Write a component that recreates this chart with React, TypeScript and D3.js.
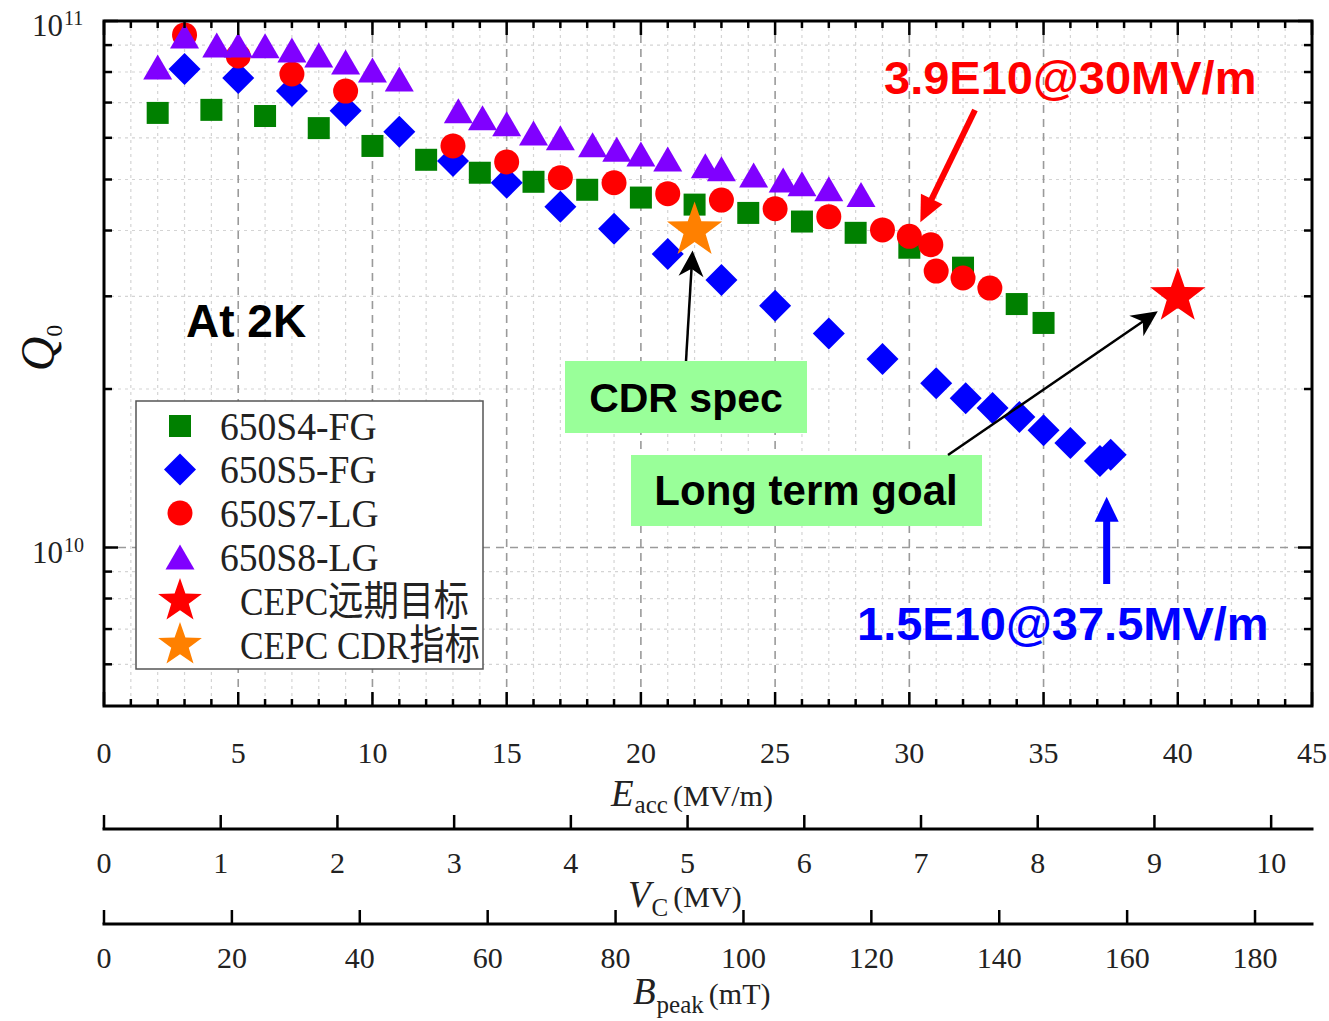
import React from "react";
import * as d3 from "d3";

// Accelerating gradient Eacc (MV/m) and intrinsic quality factor Q0 at 2 K
const s4Eacc = [2, 4, 6, 8, 10, 12, 14, 16, 18, 20, 22, 24, 26, 28, 30, 32, 34, 35];
const s4Q0 = [6.69e10, 6.78e10, 6.6e10, 6.26e10, 5.79e10, 5.45e10, 5.15e10, 4.95e10, 4.78e10, 4.62e10, 4.48e10, 4.32e10, 4.16e10, 3.96e10, 3.71e10, 3.4e10, 2.9e10, 2.67e10];

const s5Eacc = [3, 5, 7, 9, 11, 13, 15, 17, 19, 21, 23, 25, 27, 29, 31, 32.1, 33.1, 34.1, 35, 36, 37.1, 37.5];
const s5Q0 = [8.11e10, 7.79e10, 7.36e10, 6.75e10, 6.16e10, 5.42e10, 4.93e10, 4.44e10, 4.03e10, 3.61e10, 3.22e10, 2.88e10, 2.55e10, 2.28e10, 2.05e10, 1.92e10, 1.84e10, 1.77e10, 1.67e10, 1.58e10, 1.46e10, 1.5e10];

const s7Eacc = [3, 5, 7, 9, 13, 15, 17, 19, 21, 23, 25, 27, 29, 30, 30.8, 31, 32, 33];
const s7Q0 = [9.41e10, 8.58e10, 7.93e10, 7.36e10, 5.79e10, 5.4e10, 5.04e10, 4.93e10, 4.7e10, 4.57e10, 4.4e10, 4.25e10, 4.01e10, 3.9e10, 3.76e10, 3.35e10, 3.25e10, 3.11e10];

const s8Eacc = [2, 3, 4.2, 5, 6, 7, 8, 9, 10, 11, 13.2, 14.1, 15, 16, 17, 18.2, 19.1, 20, 21, 22.4, 23, 24.2, 25.3, 26, 27, 28.2];
const s8Q0 = [8.18e10, 9.37e10, 9.0e10, 9.0e10, 8.97e10, 8.81e10, 8.62e10, 8.36e10, 8.07e10, 7.76e10, 6.75e10, 6.55e10, 6.38e10, 6.13e10, 6.0e10, 5.82e10, 5.71e10, 5.59e10, 5.47e10, 5.31e10, 5.24e10, 5.1e10, 4.99e10, 4.91e10, 4.8e10, 4.68e10];

// Specification targets
const longTermEacc = [40];
const longTermQ0 = [3e10];
const cdrEacc = [22];
const cdrQ0 = [4e10];

const seriesNames = ["650S4-FG", "650S5-FG", "650S7-LG", "650S8-LG", "CEPC远期目标", "CEPC CDR指标"];

// Axis ticks
const eaccTicks = d3.range(0, 46, 5);
const eaccMinorTicks = d3.range(0, 46, 1);
const vcTicks = d3.range(0, 11, 1);
const bpeakTicks = d3.range(0, 181, 20);
const q0MajorTicks = [1e10, 1e11];
const q0MinorTicks = [6e9, 7e9, 8e9, 9e9, 2e10, 3e10, 4e10, 5e10, 6e10, 7e10, 8e10, 9e10];

// Conversion of Eacc to cavity voltage and peak surface magnetic field
const CAVITY_LENGTH = 0.23; // m
const BPEAK_PER_EACC = 4.198; // mT/(MV/m)

const SERIF = "'Liberation Serif', 'Times New Roman', 'Noto Sans CJK SC', serif";
const SANS = "'Liberation Sans', Arial, sans-serif";

const L = 104, R = 1312, T = 21, B = 706;
const E_MAX = 45;

const x = d3.scaleLinear().domain([0, E_MAX]).range([L, R]);
const y = d3.scaleLog().domain([5e9, 1e11]).range([B, T]);
const xVc = d3.scaleLinear().domain([0, E_MAX * CAVITY_LENGTH]).range([L, R]);
const xBp = d3.scaleLinear().domain([0, E_MAX * BPEAK_PER_EACC]).range([L, R]);

type Shape = "square" | "diamond" | "circle" | "triangle" | "star";

function starPath(cx: number, cy: number, r: number) {
  const inner = r * 0.4;
  const pts: string[] = [];
  for (let i = 0; i < 10; i++) {
    const a = -Math.PI / 2 + (i * Math.PI) / 5;
    const rr = i % 2 === 0 ? r : inner;
    pts.push(`${cx + rr * Math.cos(a)},${cy + rr * Math.sin(a)}`);
  }
  return "M" + pts.join("L") + "Z";
}

function Marker({ shape, cx, cy, color, starR = 29 }: { shape: Shape; cx: number; cy: number; color: string; starR?: number }) {
  if (shape === "square") return <rect x={cx - 11} y={cy - 11} width={22} height={22} fill={color} />;
  if (shape === "diamond")
    return <path d={`M${cx},${cy - 16}L${cx + 16},${cy}L${cx},${cy + 16}L${cx - 16},${cy}Z`} fill={color} />;
  if (shape === "circle") return <circle cx={cx} cy={cy} r={12.5} fill={color} />;
  if (shape === "triangle")
    return <path d={`M${cx},${cy - 12.5}L${cx + 14.5},${cy + 12.5}L${cx - 14.5},${cy + 12.5}Z`} fill={color} />;
  return <path d={starPath(cx, cy, starR)} fill={color} />;
}

function Arrow({ x1, y1, x2, y2, width, headLen, headWidth, color, notch = 0 }: {
  x1: number; y1: number; x2: number; y2: number; width: number; headLen: number; headWidth: number; color: string; notch?: number;
}) {
  const dx = x2 - x1, dy = y2 - y1, len = Math.hypot(dx, dy);
  const ux = dx / len, uy = dy / len, px = -uy, py = ux;
  const bx = x2 - ux * headLen, by = y2 - uy * headLen;
  const nx = x2 - ux * headLen * (1 - notch), ny = y2 - uy * headLen * (1 - notch);
  const hw = headWidth / 2;
  return (
    <g>
      <line x1={x1} y1={y1} x2={nx + ux} y2={ny + uy} stroke={color} strokeWidth={width} />
      <path d={`M${x2},${y2}L${bx + px * hw},${by + py * hw}L${nx},${ny}L${bx - px * hw},${by - py * hw}Z`} fill={color} />
    </g>
  );
}

const series: { name: string; e: number[]; q: number[]; shape: Shape; color: string }[] = [
  { name: seriesNames[0], e: s4Eacc, q: s4Q0, shape: "square", color: "#008000" },
  { name: seriesNames[1], e: s5Eacc, q: s5Q0, shape: "diamond", color: "#0000ff" },
  { name: seriesNames[2], e: s7Eacc, q: s7Q0, shape: "circle", color: "#ff0000" },
  { name: seriesNames[3], e: s8Eacc, q: s8Q0, shape: "triangle", color: "#8000ff" },
  { name: seriesNames[4], e: longTermEacc, q: longTermQ0, shape: "star", color: "#ff0000" },
  { name: seriesNames[5], e: cdrEacc, q: cdrQ0, shape: "star", color: "#ff8000" },
];

function SecondaryAxis({ scale, ticks, axisY, labelY }: { scale: d3.ScaleLinear<number, number>; ticks: number[]; axisY: number; labelY: number }) {
  return (
    <g>
      <line x1={L - 1.5} x2={R + 1.5} y1={axisY} y2={axisY} stroke="#000" strokeWidth={3} />
      {ticks.map((t) => (
        <g key={t}>
          <line x1={scale(t)} x2={scale(t)} y1={axisY} y2={axisY - 14} stroke="#000" strokeWidth={2.5} />
          <text x={scale(t)} y={labelY} textAnchor="middle" fontSize={30} fontFamily={SERIF} fill="#222">{t}</text>
        </g>
      ))}
    </g>
  );
}

function AxisTitle({ x0, y0, symbol, sub, unit, subDy }: { x0: number; y0: number; symbol: string; sub: string; unit: string; subDy: number }) {
  return (
    <text x={x0} y={y0} fontFamily={SERIF} fill="#222">
      <tspan fontSize={37} fontStyle="italic">{symbol}</tspan>
      <tspan fontSize={25} dy={subDy} dx={1}>{sub}</tspan>
      <tspan fontSize={30} dy={-subDy} dx={5}>{unit}</tspan>
    </text>
  );
}

export default function App() {
  const vMinor = eaccMinorTicks.filter((t) => t % 5 !== 0);
  const vMajor = eaccTicks.filter((t) => t > 0 && t < E_MAX);
  const legendRows = [426, 469.5, 513, 557, 601, 645];

  return (
    <svg width={1329} height={1021} style={{ position: "absolute", left: 0, top: 0, background: "#fff" }}>
      <rect x={0} y={0} width={1329} height={1021} fill="#fff" />
      {/* grid */}
      <g>
        {vMinor.map((t) => (
          <line key={"vm" + t} x1={x(t)} x2={x(t)} y1={T} y2={B} stroke="#d4d4d4" strokeWidth={1.2} strokeDasharray="3,4" />
        ))}
        {q0MinorTicks.map((t) => (
          <line key={"hm" + t} x1={L} x2={R} y1={y(t)} y2={y(t)} stroke="#d4d4d4" strokeWidth={1.2} strokeDasharray="3,4" />
        ))}
        {vMajor.map((t) => (
          <line key={"vM" + t} x1={x(t)} x2={x(t)} y1={T} y2={B} stroke="#9a9a9a" strokeWidth={1.6} strokeDasharray="8,6" />
        ))}
        <line x1={L} x2={R} y1={y(1e10)} y2={y(1e10)} stroke="#9a9a9a" strokeWidth={1.6} strokeDasharray="8,6" />
      </g>

      {/* data */}
      {series.map((s) => (
        <g key={s.name}>
          {s.e.map((e, i) => (
            <Marker key={i} shape={s.shape} cx={x(e)} cy={y(s.q[i])} color={s.color} />
          ))}
        </g>
      ))}

      {/* frame and ticks */}
      <rect x={L} y={T} width={R - L} height={B - T} fill="none" stroke="#000" strokeWidth={3} />
      {eaccMinorTicks.map((t) => {
        const len = t % 5 === 0 ? 14 : 7;
        return (
          <g key={"xt" + t}>
            <line x1={x(t)} x2={x(t)} y1={B} y2={B - len} stroke="#000" strokeWidth={2.5} />
            <line x1={x(t)} x2={x(t)} y1={T} y2={T + len} stroke="#000" strokeWidth={2.5} />
          </g>
        );
      })}
      {[...q0MajorTicks, ...q0MinorTicks].map((t) => {
        const len = q0MajorTicks.includes(t) ? 14 : 8;
        return (
          <g key={"yt" + t}>
            <line x1={L} x2={L + len} y1={y(t)} y2={y(t)} stroke="#000" strokeWidth={2.5} />
            <line x1={R} x2={R - len} y1={y(t)} y2={y(t)} stroke="#000" strokeWidth={2.5} />
          </g>
        );
      })}

      {/* Eacc tick labels */}
      {eaccTicks.map((t) => (
        <text key={"xl" + t} x={x(t)} y={763} textAnchor="middle" fontSize={30} fontFamily={SERIF} fill="#222">{t}</text>
      ))}
      {/* Q0 tick labels */}
      {q0MajorTicks.map((t) => {
        const exp = Math.round(Math.log10(t));
        const yy = y(t);
        return (
          <g key={"yl" + t} fill="#222" fontFamily={SERIF}>
            <text x={63} y={yy + 15} textAnchor="end" fontSize={31}>10</text>
            <text x={64} y={yy + 4} fontSize={20}>{exp}</text>
          </g>
        );
      })}

      {/* Q0 axis title */}
      <text transform="translate(54,348) rotate(-90)" textAnchor="middle" fontFamily={SERIF} fill="#111">
        <tspan fontSize={48} fontStyle="italic">Q</tspan>
        <tspan fontSize={24} dy={8}>0</tspan>
      </text>

      {/* bottom axis titles */}
      <AxisTitle x0={611} y0={806} symbol="E" sub="acc" unit="(MV/m)" subDy={7} />
      <SecondaryAxis scale={xVc} ticks={vcTicks} axisY={829} labelY={873} />
      <AxisTitle x0={628} y0={907} symbol="V" sub="C" unit="(MV)" subDy={9} />
      <SecondaryAxis scale={xBp} ticks={bpeakTicks} axisY={924} labelY={968} />
      <AxisTitle x0={633} y0={1004} symbol="B" sub="peak" unit="(mT)" subDy={9} />

      {/* legend */}
      <rect x={136} y={401} width={347} height={268} fill="#fff" stroke="#555" strokeWidth={1.5} />
      {series.map((s, i) => (
        <g key={"lg" + s.name}>
          <Marker shape={s.shape} cx={180} cy={legendRows[i]} color={s.color} starR={23} />
          <text
            transform={`translate(${i < 4 ? 220 : 240},${legendRows[i] + 13.5}) scale(${i < 4 ? 0.94 : 0.86},1)`}
            fontSize={i < 4 ? 40 : 41}
            fontFamily={SERIF}
            fill="#222"
            style={{ whiteSpace: "pre" }}
          >
            {s.name}
          </text>
        </g>
      ))}

      {/* annotations */}
      <text x={186} y={337} fontSize={46} fontWeight="bold" fontFamily={SANS} fill="#000">At 2K</text>

      <text x={884} y={94} fontSize={47} fontWeight="bold" fontFamily={SANS} fill="#ff0000">3.9E10@30MV/m</text>
      <Arrow x1={975} y1={110} x2={x(30) + 11} y2={y(3.9e10) - 14} width={6} headLen={26} headWidth={24} color="#ff0000" />

      <rect x={565} y={361} width={242} height={72} fill="#99ff99" />
      <text x={686} y={412} textAnchor="middle" fontSize={41} fontWeight="bold" fontFamily={SANS} fill="#000">CDR spec</text>
      <Arrow x1={686} y1={361} x2={x(cdrEacc[0]) - 2} y2={y(cdrQ0[0]) + 20} width={2.5} headLen={26} headWidth={25} color="#000" notch={0.3} />

      <rect x={631} y={455} width={351} height={71} fill="#99ff99" />
      <text x={806} y={505} textAnchor="middle" fontSize={42} fontWeight="bold" fontFamily={SANS} fill="#000">Long term goal</text>
      <Arrow x1={948} y1={455} x2={x(longTermEacc[0]) - 20} y2={y(longTermQ0[0]) + 15} width={2.5} headLen={26} headWidth={25} color="#000" notch={0.3} />

      <Arrow x1={x(37.5) - 4} y1={584} x2={x(37.5) - 4} y2={y(1.5e10) + 42} width={7} headLen={25} headWidth={24} color="#0000ff" />
      <text x={857} y={640} fontSize={47} fontWeight="bold" fontFamily={SANS} fill="#0000ff">1.5E10@37.5MV/m</text>
    </svg>
  );
}
